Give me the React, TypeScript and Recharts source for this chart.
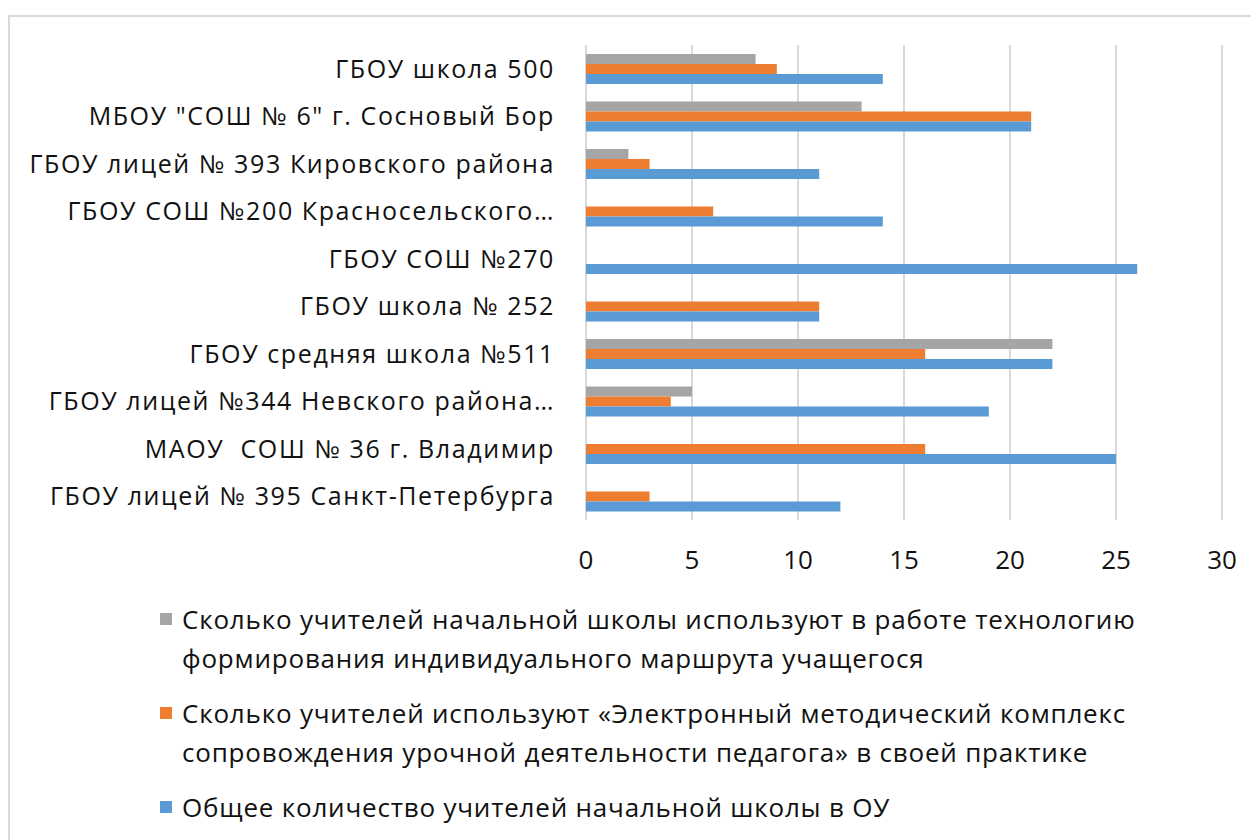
import { Bar, BarChart, CartesianGrid, XAxis, YAxis } from "recharts";

const schools = [
  "ГБОУ школа 500",
  'МБОУ "СОШ № 6" г. Сосновый Бор',
  "ГБОУ лицей № 393 Кировского района",
  "ГБОУ СОШ №200 Красносельского…",
  "ГБОУ СОШ №270",
  "ГБОУ школа № 252",
  "ГБОУ средняя школа №511",
  "ГБОУ лицей №344 Невского района…",
  "МАОУ\u00a0 СОШ № 36 г. Владимир",
  "ГБОУ лицей № 395 Санкт-Петербурга",
];

const individualRoute = [8, 13, 2, 0, 0, 0, 22, 5, 0, 0];
const electronicComplex = [9, 21, 3, 6, 0, 11, 16, 4, 16, 3];
const totalTeachers = [14, 21, 11, 14, 26, 11, 22, 19, 25, 12];

const xTicks = [0, 5, 10, 15, 20, 25, 30];

const seriesNames = [
  "Сколько учителей начальной школы используют в работе технологию формирования индивидуального маршрута учащегося",
  "Сколько учителей используют «Электронный методический комплекс сопровождения урочной деятельности педагога» в своей практике",
  "Общее количество учителей начальной школы в ОУ",
];

const colors = ["#a5a5a5", "#ed7d31", "#5b9bd5"];
const font = "'Open Sans', 'Noto Sans', sans-serif";

const data = schools.map((school, i) => ({
  school,
  route: individualRoute[i],
  complex: electronicComplex[i],
  total: totalTeachers[i],
}));

export default function App() {
  return (
    <div
      style={{
        marginTop: 7,
        width: 1270,
        height: 840,
        border: "2px solid #d9d9d9",
        background: "#fff",
        fontFamily: font,
        boxSizing: "border-box",
      }}
    >
      <BarChart
        layout="vertical"
        width={1250}
        height={575}
        data={data}
        margin={{ top: 28, right: 38, left: 0, bottom: 0 }}
        barGap={0}
        barSize={10}
      >
        <CartesianGrid horizontal={false} stroke="#d9d9d9" strokeWidth={2} />
        <XAxis
          type="number"
          domain={[0, 30]}
          ticks={xTicks}
          axisLine={false}
          tickLine={false}
          tickMargin={25}
          height={72}
          tick={{ fill: "#111", fontSize: 26, fontFamily: font }}
        />
        <YAxis
          type="category"
          dataKey="school"
          width={576}
          axisLine={false}
          tickLine={false}
          tickSize={0}
          tickMargin={31}
          interval={0}
          tick={{ fill: "#111", fontSize: 25, fontFamily: font, letterSpacing: 1.6 }}
        />
        <Bar dataKey="route" fill={colors[0]} isAnimationActive={false} />
        <Bar dataKey="complex" fill={colors[1]} isAnimationActive={false} />
        <Bar dataKey="total" fill={colors[2]} isAnimationActive={false} />
      </BarChart>
      <div style={{ paddingLeft: 150, paddingTop: 8 }}>
        {seriesNames.map((name, i) => (
          <div
            key={name}
            style={{
              display: "flex",
              alignItems: "flex-start",
              marginBottom: 16,
              fontSize: 26,
              letterSpacing: 0.8,
              lineHeight: "39px",
              color: "#111",
            }}
          >
            <span
              style={{
                width: 12,
                height: 12,
                background: colors[i],
                marginTop: 13,
                marginRight: 10,
                flexShrink: 0,
              }}
            />
            <span style={{ maxWidth: 1010 }}>{name}</span>
          </div>
        ))}
      </div>
    </div>
  );
}
